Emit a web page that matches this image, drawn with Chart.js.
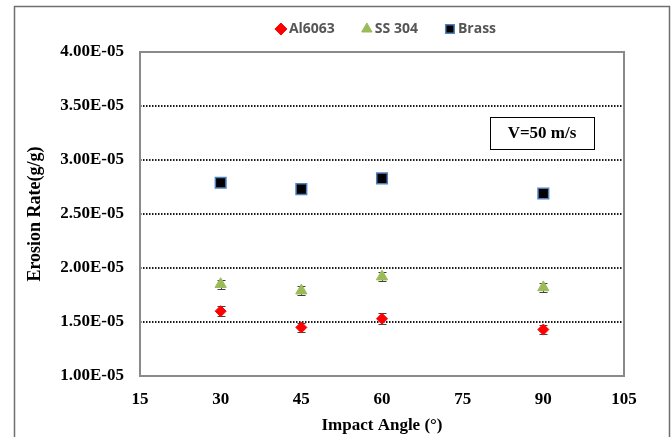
<!DOCTYPE html>
<html>
<head>
<meta charset="utf-8">
<script src="https://cdn.jsdelivr.net/npm/chart.js@4/dist/chart.umd.min.js"></script>
<style>
  body { margin: 0; background: #fff; }
  #chart { display: block; }
</style>
</head>
<body>
<canvas id="chart" width="672" height="437"></canvas>
<script>
// Impact angles (deg) and erosion rates (g/g)
const angles = [30, 45, 60, 90];
const al6063 = [1.60e-5, 1.45e-5, 1.53e-5, 1.43e-5];
const ss304 = [1.85e-5, 1.79e-5, 1.92e-5, 1.82e-5];
const brass = [2.79e-5, 2.73e-5, 2.83e-5, 2.69e-5];
const al6063Err = [0.045e-5, 0.045e-5, 0.05e-5, 0.045e-5];
const ss304Err = [0.04e-5, 0.04e-5, 0.04e-5, 0.04e-5];
const brassErr = [0.02e-5, 0.02e-5, 0.02e-5, 0.02e-5];
const xTicks = [15, 30, 45, 60, 75, 90, 105];
const yTicks = [1e-5, 1.5e-5, 2e-5, 2.5e-5, 3e-5, 3.5e-5, 4e-5];

const serif = "'Liberation Serif', 'Times New Roman', serif";

function toPoints(values) {
  return angles.map((a, i) => ({ x: a, y: values[i] }));
}

function formatSci(v) {
  return (v * 1e5).toFixed(2) + 'E-05';
}

// error bars drawn under the markers
const errorBars = {
  id: 'errorBars',
  beforeDatasetsDraw(chart) {
    const { ctx, scales: { x, y } } = chart;
    ctx.save();
    ctx.strokeStyle = '#404040';
    ctx.lineWidth = 1;
    chart.data.datasets.forEach(ds => {
      ds.errors.forEach((e, i) => {
        const p = ds.data[i];
        const px = Math.round(x.getPixelForValue(p.x)) + 0.5;
        const top = Math.round(y.getPixelForValue(p.y + e)) + 0.5;
        const bot = Math.round(y.getPixelForValue(p.y - e)) + 0.5;
        ctx.beginPath();
        ctx.moveTo(px, top); ctx.lineTo(px, bot);
        ctx.moveTo(px - 4, top); ctx.lineTo(px + 4, top);
        ctx.moveTo(px - 4, bot); ctx.lineTo(px + 4, bot);
        ctx.stroke();
      });
    });
    ctx.restore();
  }
};

// frames + velocity note
const frames = {
  id: 'frames',
  beforeDraw(chart) {
    const { ctx } = chart;
    ctx.save();
    ctx.fillStyle = '#fff';
    ctx.fillRect(0, 0, chart.width, chart.height);
    ctx.strokeStyle = '#6f6f6f';
    ctx.lineWidth = 1.5;
    ctx.strokeRect(14.5, 6.5, 655, 440);
    ctx.restore();
  },
  afterDatasetsDraw(chart) {
    const { ctx, chartArea: a } = chart;
    ctx.save();
    ctx.strokeStyle = '#8a8a8a';
    ctx.lineWidth = 2;
    ctx.strokeRect(a.left, a.top, a.right - a.left, a.bottom - a.top);
    // note box
    ctx.strokeStyle = '#000';
    ctx.lineWidth = 1;
    ctx.strokeRect(490.5, 117.5, 104, 32);
    ctx.fillStyle = '#000';
    ctx.font = 'bold 17px ' + serif;
    ctx.textAlign = 'center';
    ctx.textBaseline = 'middle';
    ctx.fillText('V=50 m/s', 542, 134);
    ctx.restore();
  }
};

// move the legend row to where it sits in the original
const legendShift = {
  id: 'legendShift',
  afterLayout(chart) {
    const l = chart.legend;
    l.left += 76; l.right += 76;
    l.top -= 21;
  }
};

new Chart(document.getElementById('chart'), {
  type: 'scatter',
  data: {
    datasets: [
      {
        label: 'Al6063',
        data: toPoints(al6063),
        errors: al6063Err,
        pointStyle: 'rectRot',
        pointRadius: 5.5,
        backgroundColor: '#ff0000',
        borderColor: '#ff0000',
        borderWidth: 1
      },
      {
        label: 'SS 304',
        data: toPoints(ss304),
        errors: ss304Err,
        pointStyle: 'triangle',
        pointRadius: 6.5,
        backgroundColor: '#9bbb59',
        borderColor: '#9bbb59',
        borderWidth: 1
      },
      {
        label: 'Brass',
        data: toPoints(brass),
        errors: brassErr,
        pointStyle: 'rect',
        pointRadius: 7.5,
        backgroundColor: '#000000',
        borderColor: '#4f81bd',
        borderWidth: 1.5
      }
    ]
  },
  options: {
    responsive: false,
    animation: false,
    layout: { padding: { top: 12, left: 0, right: 48, bottom: 0 } },
    scales: {
      x: {
        type: 'linear',
        min: 15,
        max: 105,
        afterBuildTicks: s => { s.ticks = xTicks.map(v => ({ value: v })); },
        afterFit: s => { s.height = 61; },
        ticks: {
          color: '#000',
          padding: 13,
          font: { family: serif, size: 17, weight: 'bold' },
          callback: v => String(v)
        },
        grid: { display: false, drawTicks: false },
        border: { display: false },
        title: {
          display: true,
          text: 'Impact Angle (°)',
          color: '#000',
          font: { family: serif, size: 17, weight: 'bold' },
          padding: { top: 0, bottom: 1 }
        }
      },
      y: {
        min: 1e-5,
        max: 4e-5,
        afterBuildTicks: s => { s.ticks = yTicks.map(v => ({ value: v })); },
        afterFit: s => { s.width = 140; },
        ticks: {
          color: '#000',
          padding: 16,
          font: { family: serif, size: 17, weight: 'bold' },
          callback: v => formatSci(v)
        },
        grid: {
          drawTicks: false,
          color: ctx => (ctx.tick && Math.abs(ctx.tick.value - 1e-5) < 1e-9 ? 'rgba(0,0,0,0)' : '#1a1a1a'),
          lineWidth: 2
        },
        border: { display: false, dash: [1.5, 1.5] },
        title: {
          display: true,
          text: 'Erosion Rate(g/g)',
          color: '#000',
          font: { family: serif, size: 18, weight: 'bold' },
          padding: { top: 25, bottom: 0 }
        }
      }
    },
    plugins: {
      legend: {
        position: 'top',
        maxHeight: 40,
        labels: {
          usePointStyle: true,
          boxWidth: 2,
          boxHeight: 8.5,
          padding: 31,
          color: '#555555',
          font: { family: "'Open Sans', sans-serif", size: 14, weight: '700' }
        }
      },
      tooltip: { enabled: false }
    }
  },
  plugins: [frames, errorBars, legendShift]
});
</script>
</body>
</html>
